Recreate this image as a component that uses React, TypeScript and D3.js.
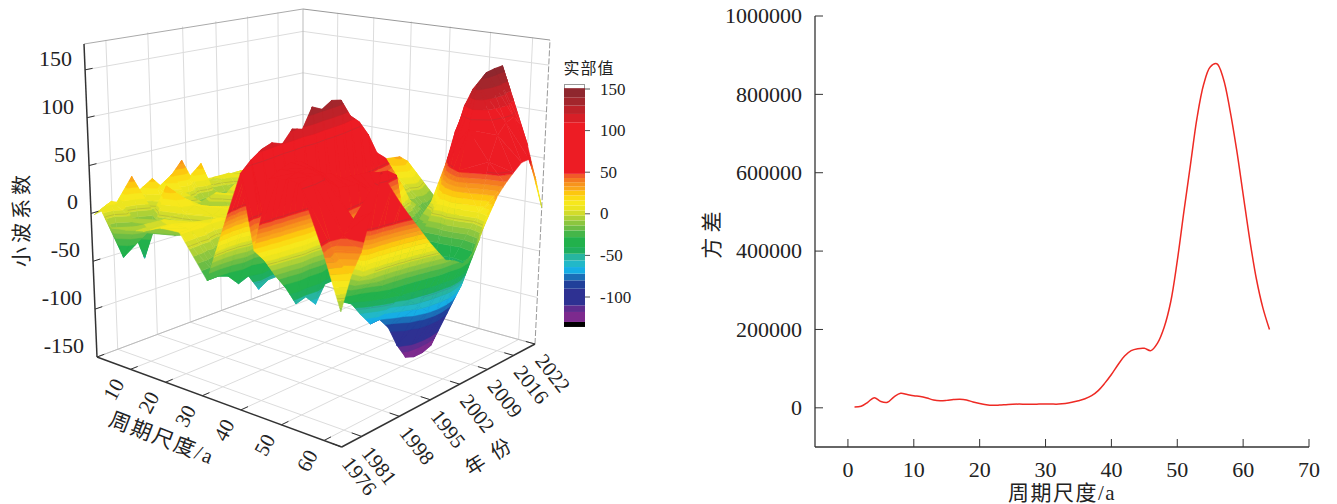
import React from 'react';
import * as d3 from 'd3';

const FONT = '"Liberation Serif","Noto Sans CJK SC",serif';

// 小波系数 surface: one row per period, one value per year (1976, 1978 ... 2022)
const surfaceYears = d3.range(1976, 2023, 2);
const surfacePeriods = [1, 3, 6, 10, 15, 20, 25, 32, 41, 44, 48, 52, 55, 60, 64];
const p1 = [0, 2, 4, 6, 10, 6, 8, 6, 10, 8, 6, 5, 4, 3, 3, 3, 3, 3, 3, 2, 2, 2, 2, 2];
const p3 = [8, 13, 8, 33, 3, 25, 12, 24, 36, 13, 27, -1, 2, 8, -1, 7, 6, 6, 5, 5, 5, 5, 5, 5];
const p6 = [-8, -42, -5, -50, -5, 5, -5, 8, -12, -18, -20, -22, -18, -10, 5, 8, 5, 5, 5, 5, 5, 5, 5, 5];
const p10 = [-5, -5, -15, -5, 28, 15, 5, -10, -5, 5, 0, 8, 5, 5, 5, 5, 5, 5, 5, 5, 5, 5, 5, 5];
const p15 = [0, 0, 5, -15, 5, 10, 5, -5, -15, -10, 5, 10, 8, 6, 5, 5, 5, 5, 5, 0, 0, 0, 0, 0];
const p20 = [10, 10, 8, 5, -10, 5, 10, 8, 5, -5, 5, 5, 5, 5, 5, 5, 5, 5, 5, 0, -5, -5, -5, -5];
const p25 = [12, 12, 14, 10, 12, 8, 10, 5, 5, 0, 0, 0, 0, 0, 0, 0, 0, 5, 5, 10, 15, 20, 15, 5];
const p32 = [-28, -28, -32, -44, -40, -58, -52, -52, -45, -30, -30, -20, -20, -10, -10, -10, -5, 0, 0, 8, 18, 30, 22, -15];
const p41 = [95, 105, 112, 115, 110, 122, 118, 138, 132, 138, 135, 115, 105, 88, 65, 56, 38, 20, 0, -10, -20, -25, -28, -33];
const p44 = [20, 5, -15, -32, -53, -50, -62, -45, -45, -45, -50, -45, -45, -40, -40, -30, -25, -25, -30, -35, -35, -35, -35, -30];
const p48 = [100, 105, 108, 105, 95, 85, 80, 70, 70, 68, 66, 62, 60, 52, 0, -15, -25, -10, 15, 45, 75, 95, 100, 85];
const p52 = [105, 108, 108, 100, 85, 75, 72, 70, 60, 52, 30, -20, -60, -90, -90, -80, -35, 30, 70, 110, 125, 130, 130, 110];
const p55 = [105, 108, 105, 90, -35, -42, -58, -72, -72, -85, -108, -125, -129, -129, -126, -108, -50, 50, 90, 135, 145, 146, 146, 120];
const p60 = [45, 40, 50, 62, 0, -10, -20, -30, -40, -50, -60, -70, -75, -75, -70, -60, -35, 10, 60, 85, 95, 98, 85, 60];
const p64 = [-12, 20, 39, 75, 112, 90, 70, 52, 35, 18, 3, -11, -16, -23, -19, -5, 18, 31, 41, 49, 56, 56, 30, -3];
const surfaceRows = [p1, p3, p6, p10, p15, p20, p25, p32, p41, p44, p48, p52, p55, p60, p64];

// colour bands of the 实部值 legend
const bandLevels = [-136, -130, -118, -110, -90, -80, -72, -64, -56, -48, -40, -28, -20, -14, -8, -2, 4, 10, 16, 22, 28, 33, 38, 43, 48, 110, 120, 130, 140, 151];
const bandColors = ['#000000', '#7d2a8e', '#5f2c8f', '#2e3192', '#21409a', '#1b6fb8', '#16aee5', '#22b8c8', '#27b5a0', '#1fae5e', '#22b14c', '#45b649', '#6cbd45', '#8cc63f', '#aed136', '#d2dc2b', '#ece51f', '#f7e81c', '#fbdc14', '#fdc70f', '#faa61a', '#f7941d', '#f47b20', '#f15a29', '#ed1c24', '#d71f27', '#bd2229', '#a3262c', '#8f272e'];
const contourLevels = [-50, 0, 50, 100];

const periodTicks = [10, 20, 30, 40, 50, 60];
const yearTicks = [1976, 1980, 1988, 1995, 2002, 2009, 2016, 2022];
const yearLabels = ['1976', '1981', '1998', '1995', '2002', '2009', '2016', '2022'];
const zTicks = [-150, -100, -50, 0, 50, 100, 150];
const legendTicks = [-100, -50, 0, 50, 100, 150];

// 方差 curve, period 1..64
const variancePeriods = d3.range(1, 65);
const varianceValues = [2000, 4000, 14000, 26000, 16000, 14000, 28000, 37000, 34000, 31000, 29000, 25000, 20000, 18000, 19000, 21000, 22000, 20000, 15000, 11000, 8000, 6500, 7000, 8000, 9000, 9500, 9000, 9000, 9500, 10000, 9500, 9500, 11000, 14000, 18000, 23000, 31000, 44000, 63000, 85000, 110000, 132000, 146000, 151000, 152000, 146000, 165000, 205000, 270000, 375000, 500000, 620000, 740000, 825000, 870000, 878000, 840000, 760000, 660000, 545000, 430000, 330000, 255000, 200000];
const varXTicks = [0, 10, 20, 30, 40, 50, 60, 70];
const varYTicks = [0, 200000, 400000, 600000, 800000, 1000000];

type XY = [number, number];
type V3 = { u: number; v: number; z: number };

// unit square -> quad, corners in the order (0,0) (1,0) (1,1) (0,1)
function homography(q: XY[]) {
  const [[x0, y0], [x1, y1], [x2, y2], [x3, y3]] = q;
  const dx1 = x1 - x2, dx2 = x3 - x2, sx = x0 - x1 + x2 - x3;
  const dy1 = y1 - y2, dy2 = y3 - y2, sy = y0 - y1 + y2 - y3;
  const den = dx1 * dy2 - dx2 * dy1;
  const g = (sx * dy2 - dx2 * sy) / den;
  const h = (dx1 * sy - sx * dy1) / den;
  const a = x1 - x0 + g * x1, b = x3 - x0 + h * x3;
  const d = y1 - y0 + g * y1, e = y3 - y0 + h * y3;
  return (u: number, v: number): XY => {
    const w = g * u + h * v + 1;
    return [(a * u + b * v + x0) / w, (d * u + e * v + y0) / w];
  };
}

const floorMap = homography([[97, 357], [341.7, 447], [535, 344], [303, 280]]);
// how far the box top sits from the floor at each corner: L, F, R, B
const riseAt: XY[] = [[-13, -313], [-2, -320], [15, -304], [0, -271]];

const uScale = d3.scaleLinear().domain([0, 64]).range([0, 1]);
const vScale = d3.scaleLinear().domain([1976, 2022]).range([0, 1]);
const wScale = d3.scaleLinear().domain([-150, 177]).range([0, 1]);

function project(u: number, v: number, z: number): XY {
  const w = wScale(z);
  const a = floorMap(u, v);
  const rise = (k: 0 | 1) =>
    riseAt[0][k] * (1 - u) * (1 - v) + riseAt[1][k] * u * (1 - v) + riseAt[2][k] * u * v + riseAt[3][k] * (1 - u) * v;
  return [a[0] + rise(0) * w, a[1] + rise(1) * w];
}

const line3 = (pts: XY[]) => d3.line()(pts) as string;

function clip(poly: V3[], level: number, keepAbove: boolean): V3[] {
  const out: V3[] = [];
  poly.forEach((a, i) => {
    const b = poly[(i + 1) % poly.length];
    const ina = keepAbove ? a.z >= level : a.z <= level;
    const inb = keepAbove ? b.z >= level : b.z <= level;
    if (ina) out.push(a);
    if (ina !== inb) {
      const t = (level - a.z) / (b.z - a.z);
      out.push({ u: a.u + (b.u - a.u) * t, v: a.v + (b.v - a.v) * t, z: level });
    }
  });
  return out;
}

function triangleMarks(tri: V3[], key: string) {
  const marks: React.ReactNode[] = [];
  bandColors.forEach((color, i) => {
    let poly = clip(tri, bandLevels[i], true);
    if (poly.length) poly = clip(poly, bandLevels[i + 1], false);
    if (poly.length < 3) return;
    const d = line3(poly.map(p => project(p.u, p.v, p.z))) + 'Z';
    marks.push(<path key={key + i} d={d} fill={color} stroke={color} strokeWidth={0.5} />);
  });
  contourLevels.forEach(level => {
    const cross: XY[] = [];
    tri.forEach((a, i) => {
      const b = tri[(i + 1) % 3];
      if ((a.z - level) * (b.z - level) < 0) {
        const t = (level - a.z) / (b.z - a.z);
        cross.push(project(a.u + (b.u - a.u) * t, a.v + (b.v - a.v) * t, level));
      }
    });
    if (cross.length === 2) {
      marks.push(<path key={key + 'c' + level} d={line3(cross)} stroke="#555" strokeOpacity={0.3} strokeWidth={0.6} fill="none" />);
    }
  });
  return marks;
}

function Surface() {
  const cells: { order: number; r: number; c: number }[] = [];
  for (let r = 0; r < surfacePeriods.length - 1; r++) {
    for (let c = 0; c < surfaceYears.length - 1; c++) {
      cells.push({ order: uScale(surfacePeriods[r]) + 1 - vScale(surfaceYears[c]), r, c });
    }
  }
  cells.sort((a, b) => a.order - b.order);
  const vert = (r: number, c: number): V3 => ({ u: uScale(surfacePeriods[r]), v: vScale(surfaceYears[c]), z: surfaceRows[r][c] });
  return (
    <g>
      {cells.map(({ r, c }) => {
        const a = vert(r, c), b = vert(r + 1, c), e = vert(r + 1, c + 1), f = vert(r, c + 1);
        return (
          <g key={r + '-' + c}>
            {triangleMarks([a, e, f], 't1')}
            {triangleMarks([a, b, e], 't2')}
          </g>
        );
      })}
    </g>
  );
}

function Box() {
  const grid = '#dcdcdc';
  const seg = (a: XY, b: XY, color: string, w = 1, key?: string) => (
    <line key={key} x1={a[0]} y1={a[1]} x2={b[0]} y2={b[1]} stroke={color} strokeWidth={w} />
  );
  return (
    <g>
      {yearTicks.slice(1, -1).map(y => seg(project(0, vScale(y), -150), project(0, vScale(y), 177), grid, 1, 'lv' + y))}
      {periodTicks.map(p => seg(project(uScale(p), 1, -150), project(uScale(p), 1, 177), grid, 1, 'rv' + p))}
      {zTicks.map(z => seg(project(0, 0, z), project(0, 1, z), grid, 1, 'lh' + z))}
      {zTicks.map(z => seg(project(0, 1, z), project(1, 1, z), grid, 1, 'rh' + z))}
      {yearTicks.slice(1, -1).map(y => seg(project(0, vScale(y), -150), project(1, vScale(y), -150), grid, 1, 'fy' + y))}
      {periodTicks.map(p => seg(project(uScale(p), 0, -150), project(uScale(p), 1, -150), grid, 1, 'fp' + p))}
      {seg(project(0, 0, -150), project(0, 1, -150), '#bbb')}
      {seg(project(0, 1, -150), project(1, 1, -150), '#bbb')}
      {seg(project(0, 1, -150), project(0, 1, 177), '#bbb')}
      {seg(project(0, 0, 177), project(0, 1, 177), '#aaa')}
      {seg(project(0, 1, 177), project(1, 1, 177), '#999')}
      <line x1={project(1, 1, -150)[0]} y1={project(1, 1, -150)[1]} x2={project(1, 1, 177)[0]} y2={project(1, 1, 177)[1]} stroke="#999" strokeDasharray="6 2" />
    </g>
  );
}

function Axes3D() {
  const ink = '#333';
  const txt = '#222';
  return (
    <g fontFamily={FONT} fill={txt}>
      <line x1={project(0, 0, -150)[0]} y1={project(0, 0, -150)[1]} x2={project(0, 0, 177)[0]} y2={project(0, 0, 177)[1]} stroke={ink} strokeWidth={1.5} />
      <line x1={project(0, 0, -150)[0]} y1={project(0, 0, -150)[1]} x2={project(1, 0, -150)[0]} y2={project(1, 0, -150)[1]} stroke={ink} strokeWidth={1.5} />
      <line x1={project(1, 0, -150)[0]} y1={project(1, 0, -150)[1]} x2={project(1, 1, -150)[0]} y2={project(1, 1, -150)[1]} stroke={ink} strokeWidth={1.5} />
      {zTicks.map(z => {
        const [x, y] = project(0, 0, z);
        const e = project(0, 0.03, z);
        return (
          <g key={z}>
            <line x1={x} y1={y} x2={e[0]} y2={e[1]} stroke={ink} />
            <text x={x - 13} y={y - 4} fontSize={22} textAnchor="end">{z}</text>
          </g>
        );
      })}
      {periodTicks.map(p => {
        const [x, y] = project(uScale(p), 0, -150);
        const e = project(uScale(p), 0.03, -150);
        return (
          <g key={p}>
            <line x1={x} y1={y} x2={e[0]} y2={e[1]} stroke={ink} />
            <text transform={`translate(${x - 17},${y + 20}) rotate(-62)`} fontSize={21} textAnchor="middle" dy="0.35em">{p}</text>
          </g>
        );
      })}
      {yearTicks.map((t, i) => {
        const [x, y] = project(1, vScale(t), -150);
        const e = project(0.965, vScale(t), -150);
        return (
          <g key={t}>
            <line x1={x} y1={y} x2={e[0]} y2={e[1]} stroke={ink} />
            <text transform={`translate(${x + 18},${y + 29}) rotate(52)`} fontSize={21} textAnchor="middle" dy="0.35em">{yearLabels[i]}</text>
          </g>
        );
      })}
      <text transform="translate(162,438) rotate(21)" fontSize={21} textAnchor="middle" dy="0.35em" letterSpacing={2}>周期尺度/a</text>
      <text transform="translate(488,457) rotate(-32)" fontSize={20} textAnchor="middle" dy="0.35em" xmlSpace="preserve">年  份</text>
      <text transform="translate(22,219) rotate(-90)" fontSize={20} textAnchor="middle" dy="0.35em" letterSpacing={4}>小波系数</text>
    </g>
  );
}

function Legend() {
  const y = d3.scaleLinear().domain([-100, 150]).range([297, 89]);
  return (
    <g fontFamily={FONT} fill="#222">
      <text x={589} y={74} fontSize={16} textAnchor="middle" letterSpacing={1}>实部值</text>
      <rect x={564.5} y={84.5} width={20} height={8} fill="#fff" stroke="#999" />
      {bandColors.map((c, i) => (
        <rect key={i} x={564} y={y(bandLevels[i + 1])} width={21} height={y(bandLevels[i]) - y(bandLevels[i + 1])} fill={c} />
      ))}
      {legendTicks.map(t => (
        <g key={t}>
          <line x1={585} x2={590} y1={y(t)} y2={y(t)} stroke="#555" />
          <text x={600} y={y(t)} fontSize={17} dy="0.33em">{t}</text>
        </g>
      ))}
    </g>
  );
}

function VarianceChart() {
  const x = d3.scaleLinear().domain([-5, 70]).range([815, 1309]);
  const y = d3.scaleLinear().domain([-100000, 1000000]).range([447, 16]);
  const d = d3.line<number>().x((_, i) => x(variancePeriods[i])).y(v => y(v)).curve(d3.curveCatmullRom)(varianceValues) as string;
  const ink = '#333';
  return (
    <g fontFamily={FONT} fill="#222">
      <path d={d} fill="none" stroke="#ee2a24" strokeWidth={1.5} />
      <line x1={x(-5)} x2={x(-5)} y1={y(1000000)} y2={447} stroke={ink} strokeWidth={1.3} />
      <line x1={x(-5)} x2={x(70)} y1={447} y2={447} stroke={ink} strokeWidth={1.3} />
      {varYTicks.map(t => (
        <g key={t}>
          <line x1={815} x2={823} y1={y(t)} y2={y(t)} stroke={ink} />
          <text x={802} y={y(t)} fontSize={22} textAnchor="end" dy="0.33em">{t}</text>
        </g>
      ))}
      {varXTicks.map(t => (
        <g key={t}>
          <line x1={x(t)} x2={x(t)} y1={447} y2={439} stroke={ink} />
          <text x={x(t)} y={470} fontSize={22} textAnchor="middle" dy="0.33em">{t}</text>
        </g>
      ))}
      <text x={1062} y={493} fontSize={21} textAnchor="middle" dy="0.35em" letterSpacing={1.5}>周期尺度/a</text>
      <text transform="translate(712,235) rotate(-90)" fontSize={21} textAnchor="middle" dy="0.35em" xmlSpace="preserve">方 差</text>
    </g>
  );
}

export default function App() {
  return (
    <svg width={1337} height={504} style={{ position: 'absolute', left: 0, top: 0, background: '#fff' }}>
      <Box />
      <Surface />
      <Axes3D />
      <Legend />
      <VarianceChart />
    </svg>
  );
}
